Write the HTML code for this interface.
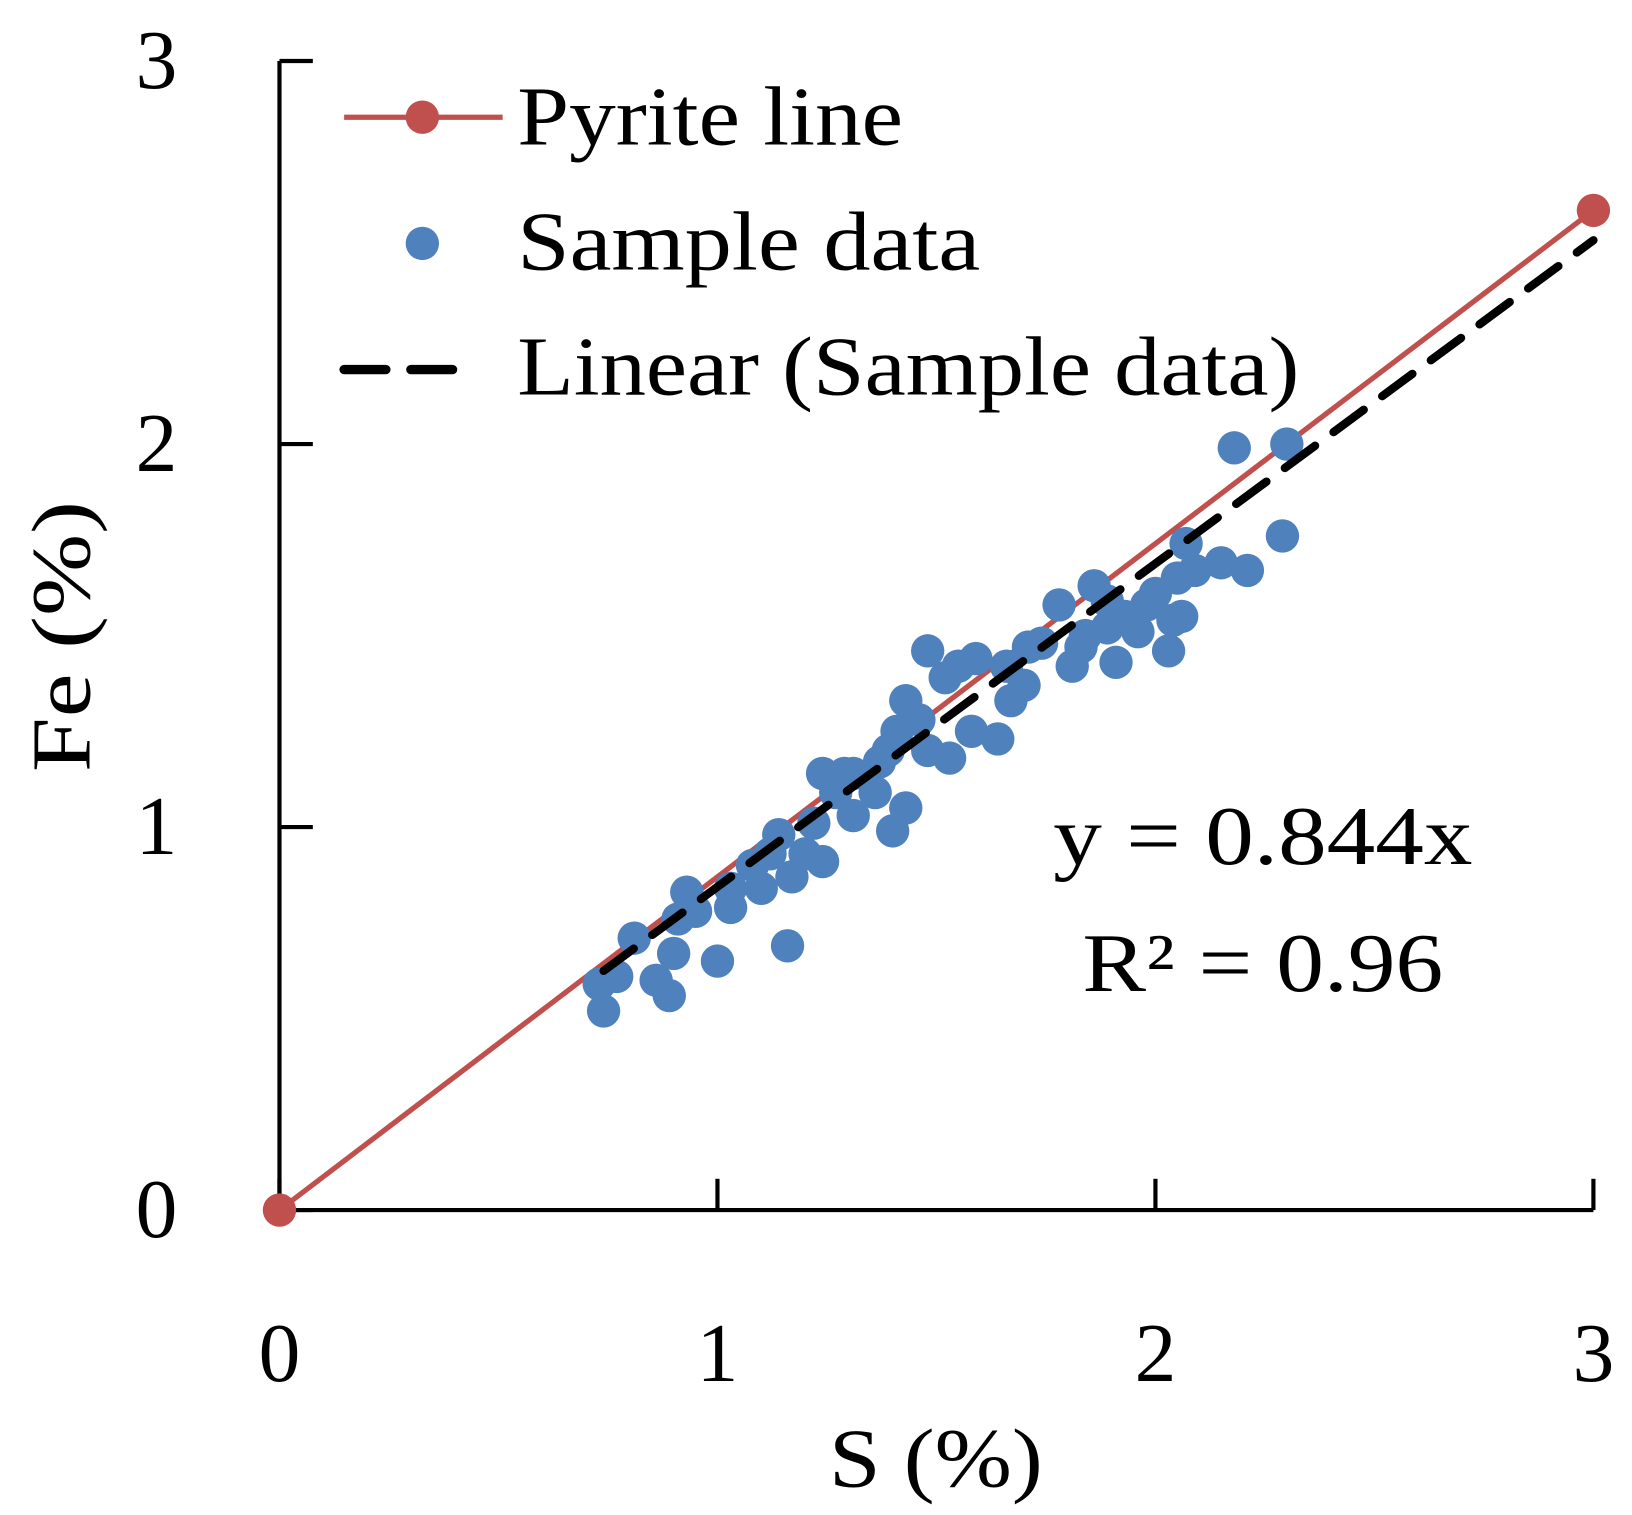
<!DOCTYPE html>
<html><head><meta charset="utf-8"><style>
html,body{margin:0;padding:0;background:#fff}
svg{display:block}
text{font-family:"Liberation Serif",serif;fill:#000}
</style></head><body>
<svg id="chart" width="1632" height="1515" viewBox="0 0 1565 1452" xmlns="http://www.w3.org/2000/svg">
<g id="axes"></g>
<g id="marks"></g>
<g id="legend">
  <line x1="330" y1="112" x2="482" y2="112" stroke="#C0504D" stroke-width="5"/>
  <circle cx="405" cy="112" r="16" fill="#C0504D"/>
  <text x="496" y="138" font-size="80" textLength="370" lengthAdjust="spacingAndGlyphs">Pyrite line</text>
  <circle cx="405" cy="233" r="16" fill="#4F81BD"/>
  <text x="496" y="258" font-size="80" textLength="444" lengthAdjust="spacingAndGlyphs">Sample data</text>
  <line x1="330" y1="354" x2="450" y2="354" stroke="#000" stroke-width="9" stroke-dasharray="40,24" stroke-linecap="round"/>
  <text x="496" y="378" font-size="80" textLength="750" lengthAdjust="spacingAndGlyphs">Linear (Sample data)</text>
</g>
<text x="1010" y="828" font-size="80" textLength="402" lengthAdjust="spacingAndGlyphs">y = 0.844x</text>
<text x="1038" y="950" font-size="80" textLength="346" lengthAdjust="spacingAndGlyphs">R² = 0.96</text>
<text x="795" y="1425" font-size="80" textLength="205" lengthAdjust="spacingAndGlyphs">S (%)</text>
<text transform="translate(86,740) rotate(-90)" font-size="80" textLength="260" lengthAdjust="spacingAndGlyphs">Fe (%)</text>
</svg>
<script>
const xTicks = [0, 1, 2, 3];
const yTicks = [0, 1, 2, 3];
const pyriteS = [0, 3];
const pyriteFe = [0, 2.61];
const trendSlope = 0.844;
const trendRange = [0.74, 3];
const sampleS = [0.74,0.73,0.77,0.81,0.86,0.89,0.90,0.93,0.91,1.00,1.03,1.08,1.10,1.16,1.17,1.14,1.20,1.24,1.24,1.27,1.31,1.29,1.36,1.40,1.43,1.37,1.41,1.46,1.48,1.43,1.48,1.52,1.55,1.59,1.53,1.58,1.64,1.66,1.67,1.70,1.74,1.78,1.81,1.86,1.84,1.89,1.91,1.93,1.96,1.98,2.00,2.03,2.04,2.06,2.05,2.07,2.09,2.15,2.21,2.18,2.30,2.29,1.83,1.89,1.71,0.95,1.03,1.12,1.22,1.31,1.39];
const sampleFe = [0.52,0.59,0.61,0.71,0.60,0.56,0.67,0.83,0.76,0.65,0.84,0.90,0.84,0.69,0.87,0.98,0.93,0.91,1.14,1.09,1.03,1.14,1.09,0.99,1.05,1.17,1.25,1.28,1.20,1.33,1.46,1.39,1.42,1.44,1.18,1.25,1.23,1.42,1.33,1.37,1.48,1.58,1.42,1.63,1.50,1.52,1.43,1.55,1.51,1.58,1.61,1.46,1.54,1.55,1.65,1.74,1.67,1.69,1.67,1.99,2.00,1.76,1.47,1.59,1.47,0.78,0.79,0.93,1.01,1.14,1.20];

const NS = "http://www.w3.org/2000/svg";
const X0 = 268, XU = 420, Y0 = 1160, YU = 367.3;
const sx = v => X0 + v * XU;
const sy = v => Y0 - v * YU;
function mk(tag, attrs, parent) {
  const e = document.createElementNS(NS, tag);
  for (const k in attrs) e.setAttribute(k, attrs[k]);
  parent.appendChild(e);
  return e;
}
const axes = document.getElementById('axes');
const marks = document.getElementById('marks');

let e = mk('line', {x1: sx(0), y1: sy(0), x2: sx(0), y2: sy(3), stroke: '#000', 'stroke-width': 4}, axes);


e = mk('line', {x1: sx(0), y1: sy(0), x2: sx(3), y2: sy(0), stroke: '#000', 'stroke-width': 4}, axes);



xTicks.forEach(t => {
  const l = mk('line', {x1: sx(t), y1: sy(0), x2: sx(t), y2: sy(0) - 30, stroke: '#000', 'stroke-width': 4}, axes);
  
  
  const tx = mk('text', {x: sx(t), y: 1324, 'font-size': 80, 'text-anchor': 'middle'}, axes);
  tx.textContent = t;
  
  
});
yTicks.forEach(t => {
  const l = mk('line', {x1: sx(0), y1: sy(t), x2: sx(0) + 32, y2: sy(t), stroke: '#000', 'stroke-width': 4}, axes);
  
  
  const tx = mk('text', {x: 150, y: sy(t) + 26, 'font-size': 80, 'text-anchor': 'middle'}, axes);
  tx.textContent = t;
  
  
});

e = mk('line', {x1: sx(pyriteS[0]), y1: sy(pyriteFe[0]), x2: sx(pyriteS[1]), y2: sy(pyriteFe[1]), stroke: '#C0504D', 'stroke-width': 5}, marks);



sampleS.forEach((s, i) => {
  const c = mk('circle', {cx: sx(s), cy: sy(sampleFe[i]), r: 16, fill: '#4F81BD'}, marks);
  
  
});

e = mk('line', {x1: sx(trendRange[0]), y1: sy(trendRange[0] * trendSlope), x2: sx(trendRange[1]), y2: sy(trendRange[1] * trendSlope), stroke: '#000', 'stroke-width': 8, 'stroke-dasharray': '36,22', 'stroke-linecap': 'round'}, marks);



pyriteS.forEach((s, i) => {
  const c = mk('circle', {cx: sx(s), cy: sy(pyriteFe[i]), r: 16, fill: '#C0504D'}, marks);
  
  
});
</script>
</body></html>
